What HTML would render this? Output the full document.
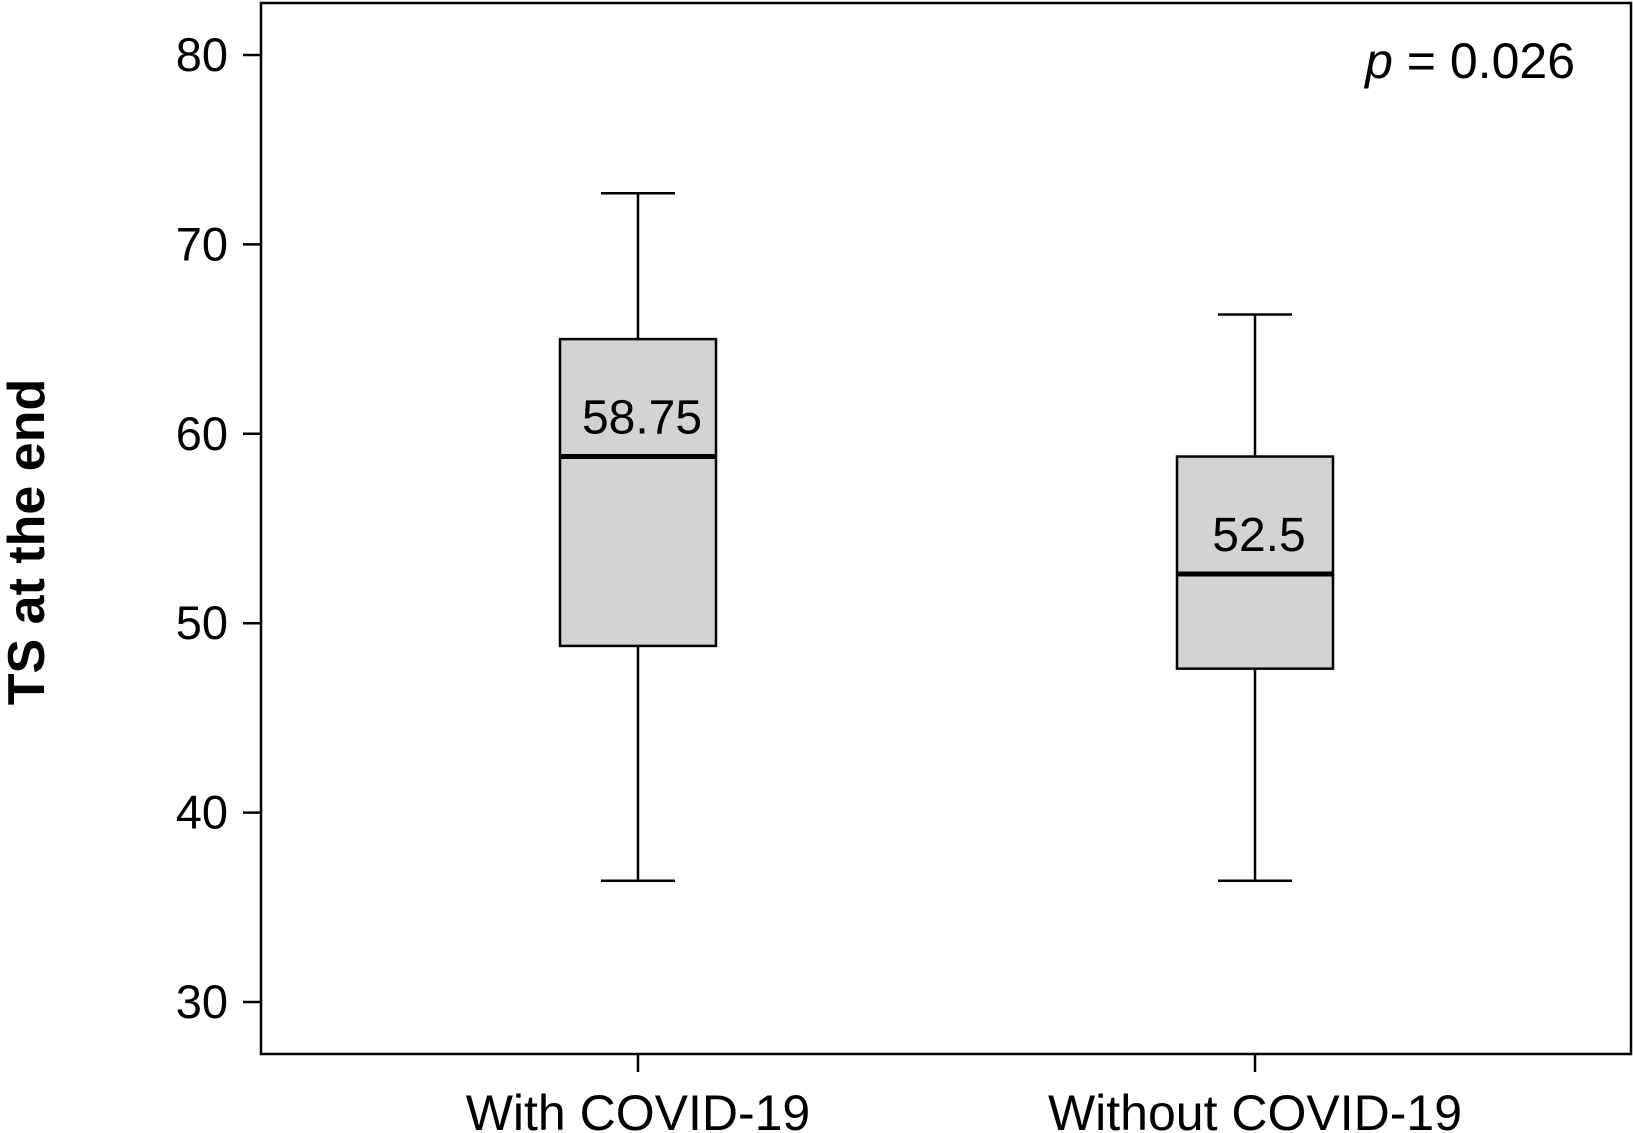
<!DOCTYPE html>
<html><head><meta charset="utf-8"><style>
body{margin:0;background:#fff;}
svg{display:block;font-family:"Liberation Sans",sans-serif;}
</style></head><body>
<svg id="chart" width="1633" height="1133"></svg>
<script>
const categories=["With COVID-19","Without COVID-19"];
const whiskerLow=[36.4,36.4];
const q1=[48.8,47.6];
const medians=[58.8,52.6];
const q3=[65.0,58.8];
const whiskerHigh=[72.7,66.3];
const medianLabels=["58.75","52.5"];
const yTicks=[30,40,50,60,70,80];
const NS="http://www.w3.org/2000/svg";
const svg=document.getElementById("chart");
const L=261,T=3,R=1631,B=1054;
function y(v){return 1002-(v-30)*18.94;}
function x(i){return [638,1255][i];}
function mk(tag,attrs,parent){const e=document.createElementNS(NS,tag);for(const k in attrs)e.setAttribute(k,attrs[k]);(parent||svg).appendChild(e);return e;}
const frame=mk("rect",{x:L,y:T,width:R-L,height:B-T,fill:"none",stroke:"#000","stroke-width":2.5});


yTicks.forEach(t=>{
 const g=mk("g",{});
 
 
 mk("line",{x1:243,x2:L,y1:y(t),y2:y(t),stroke:"#000","stroke-width":2.5},g);
 const tx=mk("text",{x:228,y:y(t)+16,"text-anchor":"end","font-size":47},g);tx.textContent=t;
});
categories.forEach((c,i)=>{
 const g=mk("g",{});
 
 
 const cx=x(i),hw=78,cw=37;
 mk("line",{x1:cx,x2:cx,y1:y(whiskerHigh[i]),y2:y(q3[i]),stroke:"#000","stroke-width":2.5},g);
 mk("line",{x1:cx,x2:cx,y1:y(q1[i]),y2:y(whiskerLow[i]),stroke:"#000","stroke-width":2.5},g);
 mk("line",{x1:cx-cw,x2:cx+cw,y1:y(whiskerHigh[i]),y2:y(whiskerHigh[i]),stroke:"#000","stroke-width":2.5},g);
 mk("line",{x1:cx-cw,x2:cx+cw,y1:y(whiskerLow[i]),y2:y(whiskerLow[i]),stroke:"#000","stroke-width":2.5},g);
 mk("rect",{x:cx-hw,y:y(q3[i]),width:2*hw,height:y(q1[i])-y(q3[i]),fill:"#d3d3d3",stroke:"#000","stroke-width":2.5},g);
 mk("line",{x1:cx-hw,x2:cx+hw,y1:y(medians[i]),y2:y(medians[i]),stroke:"#000","stroke-width":5},g);
 const ml=mk("text",{x:cx+4,y:y(medians[i])-23,"text-anchor":"middle","font-size":48},g);ml.textContent=medianLabels[i];
 mk("line",{x1:cx,x2:cx,y1:B,y2:B+18,stroke:"#000","stroke-width":2.5},g);
 const cl=mk("text",{x:cx,y:1130,"text-anchor":"middle","font-size":50},g);cl.textContent=c;
});
const yt=mk("text",{x:0,y:0,transform:"translate(44,542) rotate(-90)","text-anchor":"middle","font-size":52,"font-weight":"bold"});
yt.textContent="TS at the end";


const pv=mk("text",{x:1575,y:78,"text-anchor":"end","font-size":50});
pv.innerHTML='<tspan font-style="italic">p</tspan> = 0.026';


</script>
</body></html>
